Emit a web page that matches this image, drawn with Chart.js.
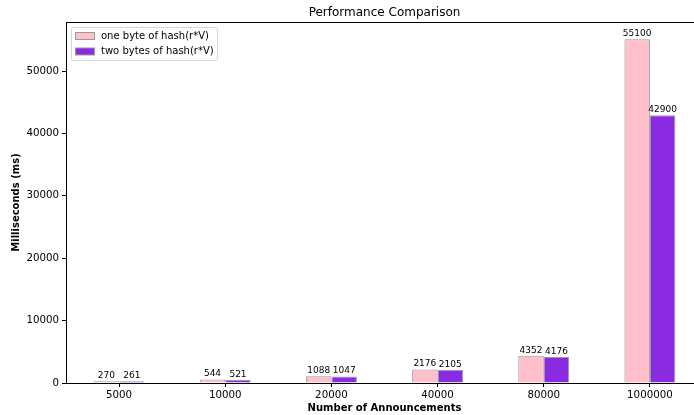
<!DOCTYPE html>
<html>
<head>
<meta charset="utf-8">
<script src="https://cdn.jsdelivr.net/npm/chart.js@4"></script>
<style>
  html, body { margin: 0; padding: 0; background: #fff; overflow: hidden; }
  #wrap { width: 710px; height: 415px; }
</style>
</head>
<body>
<div id="wrap"><canvas id="perfChart" width="710" height="415"></canvas></div>
<script>
// Chart data
const categories = ['5000', '10000', '20000', '40000', '80000', '1000000'];
const oneByte = [270, 544, 1088, 2176, 4352, 55100];
const twoBytes = [261, 521, 1047, 2105, 4176, 42900];
const seriesNames = ['one byte of hash(r*V)', 'two bytes of hash(r*V)'];
const yTicks = [0, 10000, 20000, 30000, 40000, 50000];

const FONT = 'DejaVu Sans';

// Title, frame, value labels and legend box
const decorations = {
    id: 'decorations',
    afterDatasetsDraw(chart) {
        const ctx = chart.ctx;
        const area = chart.chartArea;
        ctx.save();

        // value labels above bars
        ctx.fillStyle = '#000';
        ctx.font = '9px "' + FONT + '"';
        ctx.textAlign = 'center';
        ctx.textBaseline = 'bottom';
        chart.data.datasets.forEach((ds, i) => {
            chart.getDatasetMeta(i).data.forEach((bar, j) => {
                ctx.fillText(String(ds.data[j]), bar.x, bar.y - 1);
            });
        });

        // frame (all four spines)
        ctx.strokeStyle = '#000';
        ctx.lineWidth = 1;
        ctx.strokeRect(area.left + 0.5, area.top + 0.5, area.right - area.left, area.bottom - area.top);

        // title
        ctx.font = '12px "' + FONT + '"';
        ctx.textBaseline = 'middle';
        ctx.fillText('Performance Comparison', (area.left + area.right) / 2, 13);

        // legend
        const lx = area.left + 5, ly = area.top + 5, lw = 146, lh = 33;
        ctx.fillStyle = 'rgba(255,255,255,0.8)';
        ctx.strokeStyle = '#d6d6d6';
        ctx.beginPath();
        ctx.roundRect(lx + 0.5, ly + 0.5, lw, lh, 2);
        ctx.fill();
        ctx.stroke();
        ctx.font = '10px "' + FONT + '"';
        ctx.textAlign = 'left';
        chart.data.datasets.forEach((ds, i) => {
            const cy = ly + 9 + i * 15.5;
            ctx.fillStyle = ds.backgroundColor;
            ctx.fillRect(lx + 4, cy - 3.5, 20, 7);
            ctx.strokeStyle = ds.borderColor;
            ctx.strokeRect(lx + 4.5, cy - 3.5, 19, 7);
            ctx.fillStyle = '#000';
            ctx.fillText(ds.label, lx + 30, cy);
        });
        ctx.restore();
    }
};

new Chart(document.getElementById('perfChart'), {
    type: 'bar',
    data: {
        labels: categories,
        datasets: [{
            label: seriesNames[0],
            data: oneByte,
            backgroundColor: '#FFC0CB',
            borderColor: '#9a9a9a',
            borderWidth: 1,
            categoryPercentage: 0.48,
            barPercentage: 1.0
        }, {
            label: seriesNames[1],
            data: twoBytes,
            backgroundColor: '#8A2BE2',
            borderColor: '#9a9a9a',
            borderWidth: 1,
            categoryPercentage: 0.48,
            barPercentage: 1.0
        }]
    },
    options: {
        responsive: false,
        animation: false,
        devicePixelRatio: 1,
        layout: { padding: { top: 22, right: 7, left: 0, bottom: 0 } },
        plugins: {
            legend: { display: false },
            title: { display: false },
            tooltip: { enabled: false }
        },
        scales: {
            x: {
                grid: { display: true, offset: false, drawOnChartArea: false, tickLength: 4, color: '#000' },
                border: { display: false },
                ticks: { color: '#000', font: { family: FONT, size: 10.25 }, padding: 2, maxRotation: 0 },
                title: {
                    display: true,
                    text: 'Number of Announcements',
                    color: '#000',
                    font: { family: FONT, size: 10, weight: 'bold' },
                    padding: { top: 0, bottom: 1 }
                },
                afterFit(axis) { axis.height = 32; }
            },
            y: {
                min: 0,
                max: 57855,
                grid: { display: true, drawOnChartArea: false, tickLength: 4, color: '#000' },
                border: { display: false },
                afterBuildTicks(axis) { axis.ticks = yTicks.map(v => ({ value: v })); },
                ticks: {
                    color: '#000',
                    font: { family: FONT, size: 10.25 },
                    padding: 3,
                    callback: (value) => String(value)
                },
                title: {
                    display: true,
                    text: 'Milliseconds (ms)',
                    color: '#000',
                    font: { family: FONT, size: 10, weight: 'bold' },
                    padding: { top: 10, bottom: 0 }
                },
                afterFit(axis) { axis.width = 66; }
            }
        }
    },
    plugins: [decorations]
});
</script>
</body>
</html>
